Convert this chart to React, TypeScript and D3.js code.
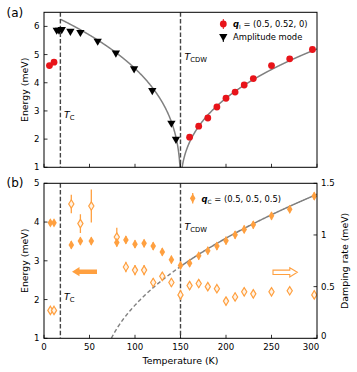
import React, { useEffect, useRef } from 'react';
import * as d3 from 'd3';

// panel (a): incommensurate phonon and amplitude mode
const redT = [6, 11, 160, 170, 180, 190, 200, 210, 220, 230, 250, 270, 295];
const redE = [4.61, 4.73, 2.07, 2.46, 2.75, 3.14, 3.45, 3.67, 3.92, 4.15, 4.61, 4.85, 5.18];
const ampT = [14, 16.5, 19.5, 29, 40, 59, 79, 99, 119, 140, 145];
const ampE = [5.87, 5.87, 5.89, 5.83, 5.79, 5.48, 5.06, 4.5, 3.73, 2.57, 2.0];

// panel (b): q_C energy (left axis) and damping rate (right axis)
const qcT = [7, 11, 30, 40, 52, 80, 90, 100, 110, 120, 130, 140, 150, 160, 170, 180, 190, 200, 210, 220, 230, 250, 270, 297];
const qcE = [3.98, 3.98, 3.41, 3.51, 3.51, 3.47, 3.54, 3.43, 3.45, 3.38, 3.23, 3.03, 2.88, 2.94, 3.13, 3.26, 3.38, 3.52, 3.67, 3.81, 3.93, 4.16, 4.33, 4.67];
const qcEErr = [0.08, 0.08, 0.1, 0.1, 0.1, 0.1, 0.1, 0.1, 0.1, 0.1, 0.1, 0.1, 0.1, 0.1, 0.1, 0.1, 0.1, 0.1, 0.1, 0.1, 0.1, 0.1, 0.1, 0.1];
const dampT = [7, 11, 30, 40, 52, 80, 90, 100, 110, 120, 130, 140, 150, 160, 170, 180, 190, 200, 210, 220, 230, 250, 270, 297];
const damp = [0.27, 0.27, 1.3, 1.11, 1.28, 0.98, 0.69, 0.66, 0.66, 0.54, 0.6, 0.54, 0.42, 0.51, 0.53, 0.5, 0.48, 0.36, 0.4, 0.45, 0.43, 0.45, 0.46, 0.42];
const dampErr = [0.03, 0.03, 0.09, 0.09, 0.16, 0.09, 0.05, 0.05, 0.05, 0.04, 0.04, 0.04, 0.05, 0.04, 0.04, 0.03, 0.03, 0.04, 0.04, 0.04, 0.04, 0.03, 0.03, 0.04];

// fit parameters
const TC = 18;
const TCDW = 150;
const ampFit = { A: 6.53, beta: 0.338 };
const redFit = { A: 5.2, beta: 0.373 };
const qcFit = { k: 0.094, T0: 63.4 };

const xTicks = [0, 50, 100, 150, 200, 250, 300];
const yTicksA = [1, 2, 3, 4, 5, 6];
const yTicksB = [1, 2, 3, 4, 5];
const yTicksR = [0, 0.5, 1, 1.5];

const ORANGE = '#ffa040';
const RED = '#e8141a';
const FONT = 'DejaVu Sans, sans-serif';

export default function App() {
    const svgRef = useRef<SVGSVGElement>(null);

    useEffect(() => {
        const svg = d3.select(svgRef.current);
        svg.selectAll('*').remove();

        const left = 44, right = 317;
        const aTop = 12.3, aBot = 167.3;
        const bTop = 183.3, bBot = 338.3;

        const x = d3.scaleLinear().domain([0, 300]).range([left, right]);
        const yA = d3.scaleLinear().domain([1, 6.5]).range([aBot, aTop]);
        const yB = d3.scaleLinear().domain([1, 5]).range([bBot, bTop]);
        const yR = d3.scaleLinear().domain([0, 1.5]).range([bBot, bTop]);

        const defs = svg.append('defs');
        defs.append('clipPath').attr('id', 'clipA')
            .append('rect').attr('x', left).attr('y', aTop).attr('width', right - left).attr('height', aBot - aTop);
        defs.append('clipPath').attr('id', 'clipB')
            .append('rect').attr('x', left).attr('y', bTop).attr('width', right - left).attr('height', bBot - bTop);

        const tri = d3.symbol().type(d3.symbolTriangle).size(30);
        const diamond = (cx: number, cy: number, w = 2.8, h = 4.6) =>
            `M${cx},${cy - h}L${cx + w},${cy}L${cx},${cy + h}L${cx - w},${cy}Z`;

        const tcLabel = (g: any, px: number, py: number, sub: string) => {
            const t = g.append('text').attr('x', px).attr('y', py)
                .attr('font-family', FONT).attr('font-size', 9.4);
            t.append('tspan').attr('font-style', 'italic').text('T');
            t.append('tspan').attr('font-size', 6.8).attr('dy', 2.2).text(sub);
        };

        const drawAxes = (top: number, bot: number, y: any, yTicks: number[], showX: boolean) => {
            const g = svg.append('g');
            xTicks.forEach(t => {
                g.append('line').attr('x1', x(t)).attr('x2', x(t)).attr('y1', bot).attr('y2', bot - 3.5)
                    .attr('stroke', '#000').attr('stroke-width', 0.8);
                if (showX) {
                    // last label nudged left so it clears the right axis "0"
                    g.append('text').attr('x', x(t) - (t === 300 ? 6 : 0)).attr('y', bot + 11.2).attr('text-anchor', 'middle')
                        .attr('font-family', FONT).attr('font-size', 8.6).text(t);
                }
            });
            yTicks.forEach(t => {
                g.append('line').attr('x1', left).attr('x2', left + 3.5).attr('y1', y(t)).attr('y2', y(t))
                    .attr('stroke', '#000').attr('stroke-width', 0.8);
                g.append('text').attr('x', 39.5).attr('y', y(t) + 3.1).attr('text-anchor', 'end')
                    .attr('font-family', FONT).attr('font-size', 8.6).text(t);
            });
            g.append('rect').attr('x', left).attr('y', top).attr('width', right - left).attr('height', bot - top)
                .attr('fill', 'none').attr('stroke', '#000').attr('stroke-width', 1);
            g.append('text').attr('transform', `translate(27.5,${(top + bot) / 2}) rotate(-90)`)
                .attr('text-anchor', 'middle').attr('font-family', FONT).attr('font-size', 9.4).text('Energy (meV)');
            return g;
        };

        // ---------------- panel (a)
        const pa = svg.append('g').attr('clip-path', 'url(#clipA)');
        const lineA = d3.line<number>().x(t => x(t)).y(t => yA(Math.max(ampFit.A * Math.pow(1 - t / TCDW, ampFit.beta), 0.5)));
        pa.append('path').datum(d3.range(TC, TCDW, 0.25).concat([TCDW]))
            .attr('d', lineA).attr('fill', 'none').attr('stroke', '#808080').attr('stroke-width', 1.5);
        const lineR = d3.line<number>().x(t => x(t)).y(t => yA(Math.max(redFit.A * Math.pow(Math.max(t / TCDW - 1, 0), redFit.beta), 0.5)));
        pa.append('path').datum(d3.range(TCDW, 300.01, 0.25))
            .attr('d', lineR).attr('fill', 'none').attr('stroke', '#808080').attr('stroke-width', 1.5);

        [TC, TCDW].forEach(t => {
            pa.append('line').attr('x1', x(t)).attr('x2', x(t)).attr('y1', aTop).attr('y2', aBot)
                .attr('stroke', '#444').attr('stroke-width', 1.4).attr('stroke-dasharray', '4.5,2.2');
        });

        redT.forEach((t, i) => {
            pa.append('circle').attr('cx', x(t)).attr('cy', yA(redE[i])).attr('r', 3.4).attr('fill', RED);
        });
        ampT.forEach((t, i) => {
            pa.append('path').attr('d', tri).attr('transform', `translate(${x(t)},${yA(ampE[i])}) rotate(180)`)
                .attr('fill', '#000');
        });

        drawAxes(aTop, aBot, yA, yTicksA, false);
        tcLabel(svg, 64, 118, 'C');
        tcLabel(svg, 184.5, 60, 'CDW');
        svg.append('text').attr('x', 6.5).attr('y', 16.5).attr('font-family', FONT).attr('font-size', 12).text('(a)');

        // legend (a)
        svg.append('line').attr('x1', 223.3).attr('x2', 223.3).attr('y1', 19).attr('y2', 29).attr('stroke', RED).attr('stroke-width', 1);
        svg.append('circle').attr('cx', 223.3).attr('cy', 24).attr('r', 3.4).attr('fill', RED);
        const la = svg.append('text').attr('x', 233).attr('y', 27).attr('font-family', FONT).attr('font-size', 8.4);
        la.append('tspan').attr('font-weight', 'bold').attr('font-style', 'italic').text('q');
        la.append('tspan').attr('font-size', 5.8).attr('dy', 2).text('I');
        la.append('tspan').attr('dy', -2).text(' = (0.5, 0.52, 0)');
        svg.append('line').attr('x1', 223.3).attr('x2', 223.3).attr('y1', 35).attr('y2', 42).attr('stroke', '#000').attr('stroke-width', 1);
        svg.append('path').attr('d', tri).attr('transform', 'translate(223.3,36.5) rotate(180)').attr('fill', '#000');
        svg.append('text').attr('x', 233).attr('y', 40).attr('font-family', FONT).attr('font-size', 8.4).text('Amplitude mode');

        // ---------------- panel (b)
        const pb = svg.append('g').attr('clip-path', 'url(#clipB)');
        const qcLine = d3.line<number>().x(t => x(t)).y(t => yB(Math.sqrt(qcFit.k * Math.max(t - qcFit.T0, 0))));
        const tStart = qcFit.T0 + 1 / qcFit.k;
        pb.append('path').datum(d3.range(tStart, TCDW, 0.5).concat([TCDW]))
            .attr('d', qcLine).attr('fill', 'none').attr('stroke', '#808080').attr('stroke-width', 1.4)
            .attr('stroke-dasharray', '4,2.5');
        pb.append('path').datum(d3.range(TCDW, 300.01, 0.5))
            .attr('d', qcLine).attr('fill', 'none').attr('stroke', '#808080').attr('stroke-width', 1.5);

        [TC, TCDW].forEach(t => {
            pb.append('line').attr('x1', x(t)).attr('x2', x(t)).attr('y1', bTop).attr('y2', bBot)
                .attr('stroke', '#444').attr('stroke-width', 1.4).attr('stroke-dasharray', '4.5,2.2');
        });

        dampT.forEach((t, i) => {
            pb.append('line').attr('x1', x(t)).attr('x2', x(t))
                .attr('y1', yR(damp[i] - dampErr[i])).attr('y2', yR(damp[i] + dampErr[i]))
                .attr('stroke', ORANGE).attr('stroke-width', 1.3);
            pb.append('path').attr('d', diamond(x(t), yR(damp[i]), 2.6, 4.2))
                .attr('fill', '#fff3e6').attr('stroke', ORANGE).attr('stroke-width', 1.2);
        });
        qcT.forEach((t, i) => {
            pb.append('line').attr('x1', x(t)).attr('x2', x(t))
                .attr('y1', yB(qcE[i] - qcEErr[i])).attr('y2', yB(qcE[i] + qcEErr[i]))
                .attr('stroke', ORANGE).attr('stroke-width', 1.3);
            pb.append('path').attr('d', diamond(x(t), yB(qcE[i]))).attr('fill', ORANGE);
        });

        // arrows
        const arrow = (tip: number, tail: number, cy: number) => {
            const dir = Math.sign(tail - tip);
            const hl = 7.5, hh = 4.6, bh = 2.2;
            const neck = tip + dir * hl;
            return `M${tip},${cy}L${neck},${cy - hh}L${neck},${cy - bh}L${tail},${cy - bh}L${tail},${cy + bh}L${neck},${cy + bh}L${neck},${cy + hh}Z`;
        };
        pb.append('path').attr('d', arrow(72, 97, 271.7)).attr('fill', ORANGE);
        pb.append('path').attr('d', arrow(297.3, 273, 272.3)).attr('fill', '#fff').attr('stroke', ORANGE).attr('stroke-width', 1.1);

        drawAxes(bTop, bBot, yB, yTicksB, true);

        const gr = svg.append('g');
        yTicksR.forEach(t => {
            gr.append('line').attr('x1', right).attr('x2', right - 3.5).attr('y1', yR(t)).attr('y2', yR(t))
                .attr('stroke', '#000').attr('stroke-width', 0.8);
            gr.append('text').attr('x', 321).attr('y', yR(t) + (t === 0 ? 1 : 3.1)).attr('font-family', FONT).attr('font-size', 8.6).text(t);
        });
        gr.append('text').attr('transform', `translate(348,${(bTop + bBot) / 2}) rotate(-90)`)
            .attr('text-anchor', 'middle').attr('font-family', FONT).attr('font-size', 9.4).text('Damping rate (meV)');
        svg.append('text').attr('x', (left + right) / 2).attr('y', 363.5).attr('text-anchor', 'middle')
            .attr('font-family', FONT).attr('font-size', 9.4).text('Temperature (K)');

        tcLabel(svg, 64, 300, 'C');
        tcLabel(svg, 184.5, 230, 'CDW');
        svg.append('text').attr('x', 6.5).attr('y', 187).attr('font-family', FONT).attr('font-size', 12).text('(b)');

        // legend (b)
        svg.append('line').attr('x1', 192.7).attr('x2', 192.7).attr('y1', 193).attr('y2', 203.5).attr('stroke', ORANGE).attr('stroke-width', 1.3);
        svg.append('path').attr('d', diamond(192.7, 198.3)).attr('fill', ORANGE);
        const lb = svg.append('text').attr('x', 201.5).attr('y', 201.5).attr('font-family', FONT).attr('font-size', 8.4);
        lb.append('tspan').attr('font-weight', 'bold').attr('font-style', 'italic').text('q');
        lb.append('tspan').attr('font-size', 5.8).attr('dy', 2).text('C');
        lb.append('tspan').attr('dy', -2).text(' = (0.5, 0.5, 0.5)');
    }, []);

    return (
        <div style={{ position: 'absolute', left: 0, top: 0 }}>
            <svg ref={svgRef} width={357} height={372} style={{ display: 'block', background: '#fff' }}></svg>
        </div>
    );
}
